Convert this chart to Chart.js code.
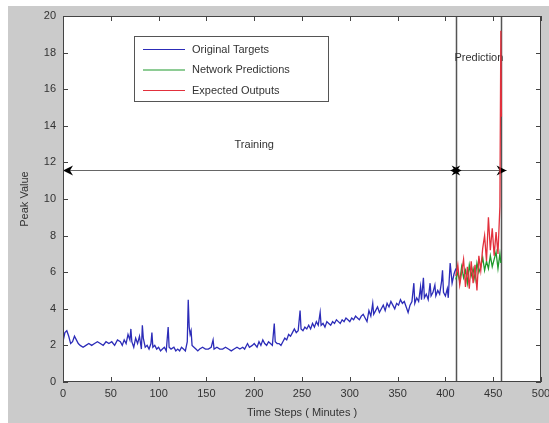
<!DOCTYPE html>
<html>
<head>
<meta charset="utf-8">
<script src="https://cdn.jsdelivr.net/npm/chart.js@4.4.1/dist/chart.umd.min.js"></script>
<style>
html, body { margin: 0; padding: 0; background: #fff; }
canvas { display: block; }
</style>
</head>
<body>
<canvas id="peak-chart" width="549" height="423"></canvas>
<script>
// values
const targetSteps = [0,2,4,6,8,10,12,14,16,18,21,24,27,30,33,36,39,42,45,48,51,54,57,60,62,64,66,68,70,71,72,74,76,78,80,82,83,84,86,88,90,92,93,94,96,98,100,102,104,106,108,110,111,113,116,118,120,122,124,126,128,130,131,132,133,134,135,137,139,141,143,146,149,152,155,157,158,161,164,167,170,173,176,179,182,185,188,190,193,195,198,200,203,205,207,209,211,213,215,217,219,221,222,224,226,228,230,232,234,236,238,240,242,244,246,248,249,251,253,255,257,259,261,263,265,267,269,270,272,274,276,278,280,282,284,286,288,290,292,294,296,298,300,302,304,306,308,310,312,314,316,318,320,322,324,325,327,329,331,333,335,337,339,341,343,345,347,349,351,353,355,357,359,361,363,365,367,368,370,372,374,375,377,378,380,382,384,385,387,389,390,392,394,396,397,398,400,402,403,404,405,407,409,411];
const targetValues = [2.2,2.7,2.8,2.5,2.1,2.2,2.5,2.3,2.1,2.0,1.9,2.0,2.1,2.0,2.1,2.2,2.1,2.0,2.2,2.1,2.2,2.0,2.3,2.2,2.0,2.3,2.1,2.6,2.3,2.9,2.2,1.9,2.4,2.1,2.5,1.8,3.1,2.4,1.9,2.0,1.8,2.1,2.7,1.9,2.0,1.8,1.9,1.7,1.8,1.9,1.7,3.0,1.9,1.8,1.9,1.7,1.8,1.7,1.9,1.8,1.7,2.2,4.5,3.0,2.6,2.8,2.0,1.9,1.8,1.7,1.8,1.9,1.8,1.8,1.9,2.3,1.8,1.9,1.8,1.8,1.9,1.8,1.7,1.8,1.9,1.8,1.9,1.8,2.1,1.9,2.0,2.1,1.9,2.2,2.0,2.3,2.1,2.0,2.2,2.1,2.0,3.2,2.2,2.1,2.1,2.0,2.2,2.4,2.3,2.6,2.5,2.7,2.9,2.7,2.8,3.9,2.9,2.8,3.0,2.9,3.1,2.9,3.2,3.0,3.3,3.1,3.8,3.1,3.2,3.0,3.3,3.2,3.1,3.3,3.2,3.4,3.3,3.2,3.4,3.3,3.5,3.4,3.3,3.5,3.4,3.6,3.5,3.4,3.6,3.7,3.5,3.3,3.9,3.6,4.3,3.7,3.9,4.1,3.8,4.0,4.2,3.9,4.3,4.1,4.4,4.2,4.0,4.3,4.2,4.5,4.3,4.4,4.1,3.8,4.2,4.4,5.4,4.3,4.6,4.4,5.2,4.5,5.7,4.6,4.8,4.5,5.4,4.7,4.9,5.3,4.7,5.0,4.8,5.5,6.1,4.9,4.7,5.1,4.6,5.6,6.5,5.4,5.9,6.2,5.5];

const predictionSteps = [411,413,415,417,419,421,423,425,427,429,431,433,435,437,439,441,443,445,447,449,451,453,455,457,458];
const predictionValues = [5.6,6.0,5.5,6.3,5.7,6.1,5.4,6.4,5.8,6.2,5.6,6.5,6.0,6.3,6.8,6.1,6.6,6.2,6.9,6.3,6.7,7.1,6.2,7.0,6.5];

const expectedSteps = [411,413,415,417,419,421,423,425,427,429,431,433,435,437,439,441,443,445,447,449,451,453,455,457,458,458.6];
const expectedValues = [5.8,6.4,5.3,6.0,6.7,5.2,6.3,5.1,6.6,5.4,6.4,5.0,6.9,6.1,7.3,8.0,6.6,9.0,7.2,8.4,6.9,8.2,7.0,9.6,19.2,14.5];

const seriesNames = ['Original Targets', 'Network Predictions', 'Expected Outputs'];
const trainingEnd = 411;
const predictionEnd = 458;
const arrowLevel = 11.6;

const xMax = 500, xStep = 50;
const yMax = 20, yStep = 2;

const FONT = "'Liberation Sans', Arial, sans-serif";
const TEXT = '#333';

function toPoints(xs, ys) {
    return xs.map((x, i) => ({ x: x, y: ys[i] }));
}

// grey figure background, white axes
const backdrop = {
    id: 'backdrop',
    beforeDraw(chart) {
        const c = chart.ctx, a = chart.chartArea;
        c.save();
        c.fillStyle = '#fff';
        c.fillRect(0, 0, chart.width, chart.height);
        c.fillStyle = '#cbcbcb';
        c.fillRect(8, 6, chart.width - 8, chart.height - 6);
        c.fillStyle = '#fff';
        c.fillRect(a.left, a.top, a.right - a.left, a.bottom - a.top);
        c.restore();
    }
};

function arrowHead(c, tipX, y, dir) {
    c.beginPath();
    c.moveTo(tipX, y);
    c.lineTo(tipX - dir * 10, y - 5);
    c.lineTo(tipX - dir * 7, y);
    c.lineTo(tipX - dir * 10, y + 5);
    c.closePath();
    c.fill();
}

// phase markers, arrows and labels
const phases = {
    id: 'phases',
    beforeDatasetsDraw(chart) {
        const c = chart.ctx, x = chart.scales.x, y = chart.scales.y;
        c.save();
        c.strokeStyle = '#555';
        c.lineWidth = 1.5;
        [trainingEnd, predictionEnd].forEach(v => {
            const px = Math.round(x.getPixelForValue(v)) + 0.5;
            c.beginPath();
            c.moveTo(px, y.getPixelForValue(0));
            c.lineTo(px, y.getPixelForValue(yMax));
            c.stroke();
        });

        const ay = Math.round(y.getPixelForValue(arrowLevel)) + 0.5;
        c.strokeStyle = '#666';
        c.lineWidth = 1;
        c.beginPath();
        c.moveTo(x.getPixelForValue(0), ay);
        c.lineTo(x.getPixelForValue(predictionEnd + 6), ay);
        c.stroke();
        c.fillStyle = '#000';
        arrowHead(c, x.getPixelForValue(0), ay, -1);
        arrowHead(c, x.getPixelForValue(trainingEnd + 6), ay, 1);
        arrowHead(c, x.getPixelForValue(trainingEnd - 6), ay, -1);
        arrowHead(c, x.getPixelForValue(predictionEnd + 6), ay, 1);

        c.fillStyle = TEXT;
        c.font = '11px ' + FONT;
        c.textAlign = 'center';
        c.textBaseline = 'middle';
        c.fillText('Training', x.getPixelForValue(200), y.getPixelForValue(12.95));
        c.fillText('Prediction', x.getPixelForValue(435), y.getPixelForValue(17.7));
        c.restore();
    }
};

// box round the axes with inward ticks on all sides, then the legend
const frame = {
    id: 'frame',
    afterDatasetsDraw(chart) {
        const c = chart.ctx, a = chart.chartArea, x = chart.scales.x, y = chart.scales.y;
        c.save();
        c.strokeStyle = '#444';
        c.lineWidth = 1;
        c.strokeRect(a.left + 0.5, a.top + 0.5, a.right - a.left - 1, a.bottom - a.top - 1);
        c.beginPath();
        x.ticks.forEach(t => {
            const px = Math.round(x.getPixelForValue(t.value)) + 0.5;
            c.moveTo(px, a.bottom); c.lineTo(px, a.bottom - 5);
            c.moveTo(px, a.top); c.lineTo(px, a.top + 5);
        });
        y.ticks.forEach(t => {
            const py = Math.round(y.getPixelForValue(t.value)) + 0.5;
            c.moveTo(a.left, py); c.lineTo(a.left + 5, py);
            c.moveTo(a.right, py); c.lineTo(a.right - 5, py);
        });
        c.stroke();
        c.restore();
    },
    afterDraw(chart) {
        const c = chart.ctx;
        const box = { left: 134, top: 36, width: 194, height: 65 };
        c.save();
        c.fillStyle = '#fff';
        c.fillRect(box.left, box.top, box.width, box.height);
        c.strokeStyle = '#555';
        c.lineWidth = 1;
        c.strokeRect(box.left + 0.5, box.top + 0.5, box.width, box.height);
        c.font = '11px ' + FONT;
        c.textBaseline = 'middle';
        c.textAlign = 'left';
        chart.data.datasets.forEach((ds, i) => {
            const ly = box.top + 13.5 + i * 20.5;
            c.strokeStyle = ds.borderColor;
            c.lineWidth = 1.2;
            c.beginPath();
            c.moveTo(box.left + 9, ly);
            c.lineTo(box.left + 51, ly);
            c.stroke();
            c.fillStyle = TEXT;
            c.fillText(ds.label, box.left + 58, ly);
        });
        c.restore();
    }
};

const ctx = document.getElementById('peak-chart').getContext('2d');
const chart = new Chart(ctx, {
    type: 'line',
    data: {
        datasets: [{
            label: seriesNames[0],
            data: toPoints(targetSteps, targetValues),
            borderColor: '#2c2cb8',
            borderWidth: 1.3,
            order: 2
        }, {
            label: seriesNames[1],
            data: toPoints(predictionSteps, predictionValues),
            borderColor: '#1f9a2c',
            borderWidth: 1.3,
            order: 1
        }, {
            label: seriesNames[2],
            data: toPoints(expectedSteps, expectedValues),
            borderColor: '#e2303c',
            borderWidth: 1.3,
            order: 0
        }]
    },
    options: {
        responsive: false,
        animation: false,
        events: [],
        elements: { point: { radius: 0 }, line: { tension: 0 } },
        layout: { padding: { left: 0, top: 16, right: 8, bottom: 0 } },
        plugins: { legend: { display: false }, tooltip: { enabled: false } },
        scales: {
            x: {
                type: 'linear',
                min: 0,
                max: xMax,
                grid: { display: false, drawTicks: false },
                border: { display: false },
                ticks: { stepSize: xStep, padding: 5, color: TEXT, font: { family: FONT, size: 11 }, maxRotation: 0 },
                title: { display: true, text: 'Time Steps ( Minutes )', color: TEXT, font: { family: FONT, size: 11 }, padding: { top: 0, bottom: 3 } },
                afterFit(scale) {
                    scale.height = 41;
                    scale.paddingLeft = 0;
                    scale.paddingRight = 0;
                }
            },
            y: {
                min: 0,
                max: yMax,
                grid: { display: false, drawTicks: false },
                border: { display: false },
                ticks: { stepSize: yStep, padding: 7, color: TEXT, font: { family: FONT, size: 11 } },
                title: { display: true, text: 'Peak Value', color: TEXT, font: { family: FONT, size: 11 }, padding: { top: 18, bottom: 0 } },
                afterFit(scale) {
                    scale.width = 63;
                }
            }
        }
    },
    plugins: [backdrop, phases, frame]
});
</script>
</body>
</html>
